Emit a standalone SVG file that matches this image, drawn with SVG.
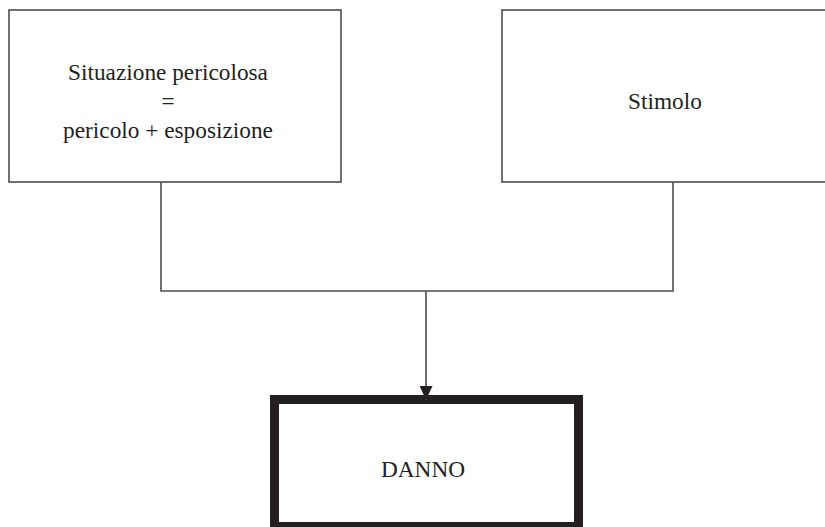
<svg xmlns="http://www.w3.org/2000/svg" width="825" height="527" viewBox="0 0 825 527">
  <defs>
    <style>
      .box { fill: #ffffff; stroke: #4d4d4d; stroke-width: 1.6; }
      .main { fill: #ffffff; stroke: #231f20; stroke-width: 9; }
      .wire { fill: none; stroke: #4d4d4d; stroke-width: 1.6; }
      .lbl { font-family: "Liberation Serif", "Times New Roman", serif; font-size: 23.3px; fill: #231f20; text-anchor: middle; }
    </style>
    <marker id="arrow" markerWidth="14" markerHeight="13" refX="14" refY="6.5" orient="auto" markerUnits="userSpaceOnUse" viewBox="0 0 14 13">
      <path d="M0,0 L14,6.5 L0,13 Z" fill="#231f20"/>
    </marker>
  </defs>
  <rect width="825" height="527" fill="#ffffff"/>

  <g id="situazione">
    <rect class="box" x="9" y="10" width="332" height="172"/>
    <text class="lbl" x="168" y="80">Situazione pericolosa</text>
    <text class="lbl" x="168" y="109">=</text>
    <text class="lbl" x="168" y="138">pericolo + esposizione</text>
  </g>

  <g id="stimolo">
    <rect class="box" x="502" y="10" width="340" height="172"/>
    <text class="lbl" x="665" y="109">Stimolo</text>
  </g>

  <g id="danno">
    <rect class="main" x="274.5" y="399.5" width="304" height="127"/>
    <text class="lbl" x="423" y="477">DANNO</text>
  </g>

  <g id="connectors">
    <polyline class="wire" points="161,182 161,291 673,291 673,182"/>
    <line class="wire" x1="426" y1="291" x2="426" y2="400" marker-end="url(#arrow)"/>
  </g>
</svg>
